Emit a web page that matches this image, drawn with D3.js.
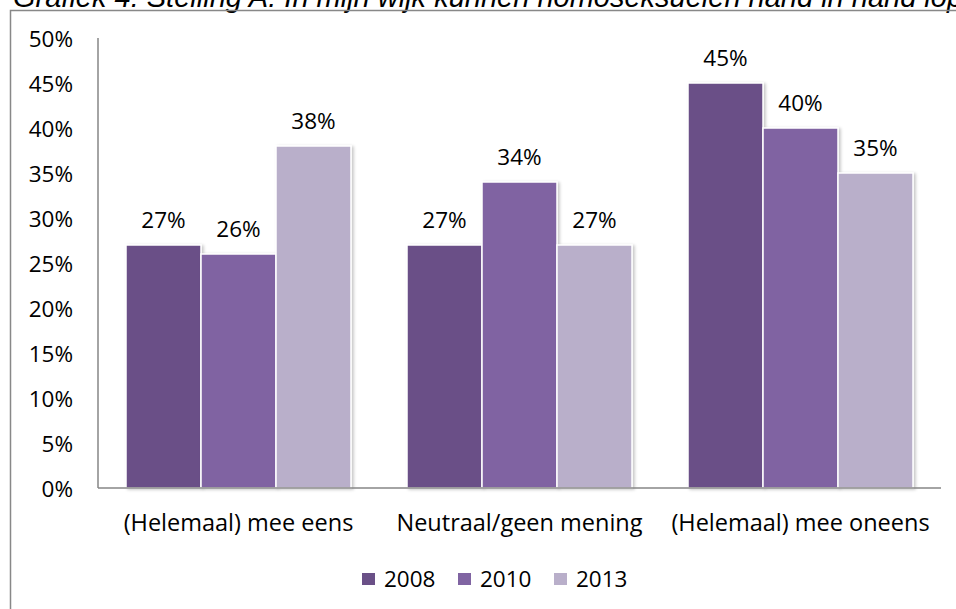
<!DOCTYPE html>
<html>
<head>
<meta charset="utf-8">
<script src="https://cdn.jsdelivr.net/npm/d3@7"></script>
<style>
html,body{margin:0;padding:0;background:#fff;overflow:hidden;}
svg{display:block;}
</style>
</head>
<body>
<svg id="chart" width="956" height="609"></svg>
<script>
const categories = ["(Helemaal) mee eens", "Neutraal/geen mening", "(Helemaal) mee oneens"];
const seriesNames = ["2008", "2010", "2013"];
const values2008 = [0.27, 0.27, 0.45];
const values2010 = [0.26, 0.34, 0.40];
const values2013 = [0.38, 0.27, 0.35];
const yTicks = [0, 0.05, 0.10, 0.15, 0.20, 0.25, 0.30, 0.35, 0.40, 0.45, 0.50];
const title = "Grafiek 4: Stelling A: In mijn wijk kunnen homoseksuelen hand in hand lopen";

(function () {
const seriesValues = [values2008, values2010, values2013];
const colors = ["#6a5087", "#8064a2", "#b9afca"];

const svg = d3.select("#chart");
const font = "'Open Sans', 'Noto Sans', sans-serif";

const defs = svg.append("defs");
const f = defs.append("filter").attr("id","sh").attr("x","-10%").attr("y","-10%").attr("width","130%").attr("height","130%");
f.append("feDropShadow").attr("dx",2).attr("dy",1).attr("stdDeviation",1.5).attr("flood-color","#000").attr("flood-opacity",0.22);

// title (cut off at top, as in the source)
svg.append("text").attr("x", 13).attr("y", 7)
  .attr("font-family", "'Liberation Sans', Arial, sans-serif")
  .attr("font-style", "italic").attr("font-size", 29).attr("fill", "#000")
  .text(title);

// outer frame
svg.append("rect").attr("x", 10.5).attr("y", 10.5).attr("width", 1200).attr("height", 900)
  .attr("fill", "none").attr("stroke", "#888").attr("stroke-width", 1.5);

const pLeft = 98, pRight = 941, pTop = 38, pBottom = 488;
const y = d3.scaleLinear().domain([0, 0.5]).range([pBottom, pTop]);
const x0 = d3.scaleBand().domain(categories).range([pLeft, pRight]);
const x1 = d3.scaleBand().domain(seriesNames).range([28, 253]);

// y tick labels
const yAxis = d3.axisLeft(y).tickValues(yTicks).tickFormat(d3.format(".0%")).tickSize(0).tickPadding(25);
const gy = svg.append("g").attr("transform", `translate(${pLeft},0)`).call(yAxis);
gy.select(".domain").remove();
gy.selectAll("text").attr("font-family", font).attr("font-size", 22.5).attr("fill", "#000").attr("dy", "0.36em");

// bars
categories.forEach((c, ci) => {
  const g = svg.append("g").attr("transform", `translate(${x0(c)},0)`);
  seriesNames.forEach((s, si) => {
    const v = seriesValues[si][ci];
    g.append("rect")
      .attr("x", x1(s)).attr("y", y(v))
      .attr("width", x1.bandwidth()).attr("height", y(0) - y(v))
      .attr("fill", colors[si]).attr("stroke", "#fff").attr("stroke-width", 1.5)
      .attr("filter", "url(#sh)");
    g.append("text")
      .attr("x", x1(s) + x1.bandwidth() / 2).attr("y", y(v) - 17.5)
      .attr("text-anchor", "middle")
      .attr("font-family", font).attr("font-size", 22.5).attr("fill", "#000")
      .text(d3.format(".0%")(v));
  });
});

// axes lines
svg.append("line").attr("x1", pLeft).attr("x2", pLeft).attr("y1", pTop).attr("y2", pBottom)
  .attr("stroke", "#868686").attr("stroke-width", 1.5);
svg.append("line").attr("x1", pLeft).attr("x2", pRight).attr("y1", pBottom).attr("y2", pBottom)
  .attr("stroke", "#868686").attr("stroke-width", 1.5);

// category labels
const xAxis = d3.axisBottom(x0).tickSize(0).tickPadding(0);
const gx = svg.append("g").attr("transform", `translate(0,${pBottom})`).call(xAxis);
gx.select(".domain").remove();
gx.selectAll("text").attr("font-family", font).attr("font-size", 23.5).attr("fill", "#000")
  .attr("dy", null).attr("y", 43);

// legend
const legend = svg.append("g").attr("transform", "translate(362,0)");
seriesNames.forEach((s, i) => {
  const lg = legend.append("g").attr("transform", `translate(${i * 96},0)`);
  lg.append("rect").attr("x", 0).attr("y", 573).attr("width", 13).attr("height", 12).attr("fill", colors[i]);
  lg.append("text").attr("x", 22).attr("y", 587)
    .attr("font-family", font).attr("font-size", 22.5).attr("fill", "#000").text(s);
});
})();
</script>
</body>
</html>
